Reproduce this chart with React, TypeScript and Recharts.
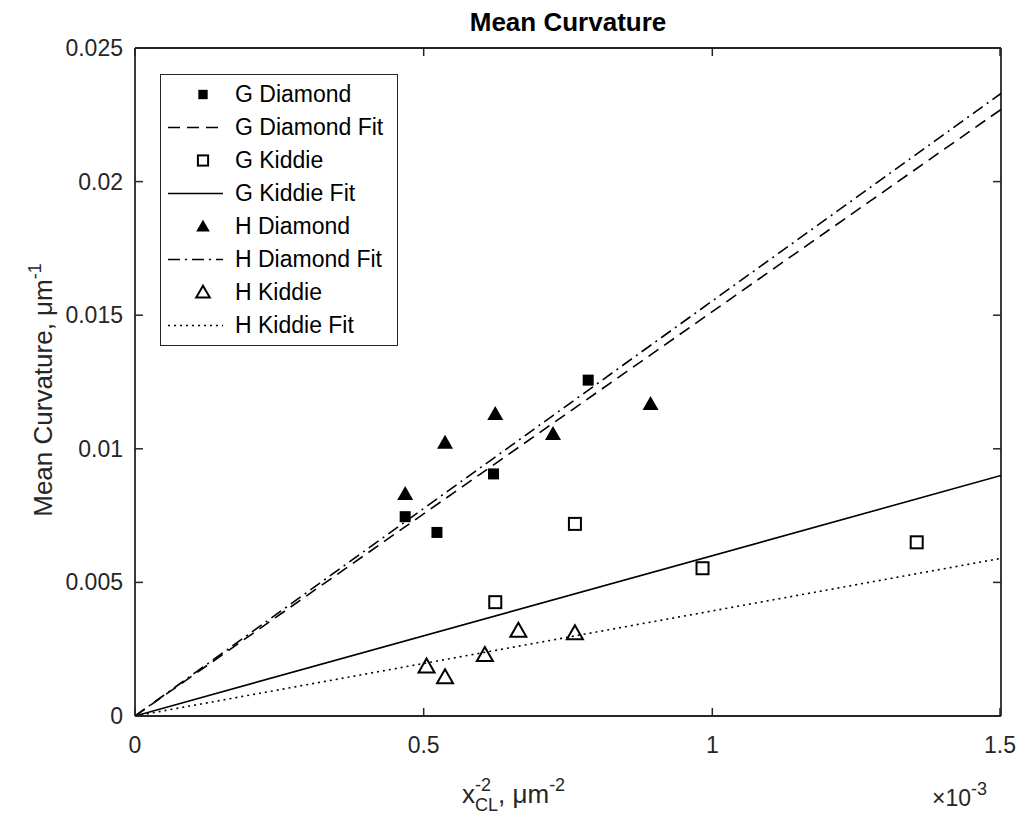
import React from "react";
import { ScatterChart, Scatter, XAxis, YAxis, Legend, Customized } from "recharts";

// x values in 1/um^2, y values in 1/um
const gDiamondX = [0.000468, 0.000523, 0.000621, 0.000785];
const gDiamondY = [0.00746, 0.00687, 0.00906, 0.01257];
const gKiddieX = [0.000624, 0.000762, 0.000983, 0.001354];
const gKiddieY = [0.00426, 0.00719, 0.00553, 0.0065];
const hDiamondX = [0.000468, 0.000537, 0.000624, 0.000724, 0.000893];
const hDiamondY = [0.00831, 0.01023, 0.0113, 0.01055, 0.01168];
const hKiddieX = [0.000505, 0.000537, 0.000606, 0.000664, 0.000762];
const hKiddieY = [0.00185, 0.00145, 0.00228, 0.00319, 0.0031];

// fit lines through the origin, end values read at x = 1.5e-3
const fitX = [0, 0.0015];
const gDiamondFitY = [0, 0.0227];
const gKiddieFitY = [0, 0.009];
const hDiamondFitY = [0, 0.0233];
const hKiddieFitY = [0, 0.0059];

const xTicks = [0, 0.0005, 0.001, 0.0015];
const xTickLabels = ["0", "0.5", "1", "1.5"];
const yTicks = [0, 0.005, 0.01, 0.015, 0.02, 0.025];
const yTickLabels = ["0", "0.005", "0.01", "0.015", "0.02", "0.025"];

const legendNames = [
  "G Diamond",
  "G Diamond Fit",
  "G Kiddie",
  "G Kiddie Fit",
  "H Diamond",
  "H Diamond Fit",
  "H Kiddie",
  "H Kiddie Fit",
];

const toPoints = (xs: number[], ys: number[]) => xs.map((x, i) => ({ x, y: ys[i] }));

const AXIS = "#262626";
const FONT = "'Liberation Sans', Arial, sans-serif";
const TICK_LEN = 8;

const DASH = "12 7";
const DASHDOT = "12 5 2 5";
const DOT = "2 4";

function Marker({ kind, cx, cy, s = 1 }: { kind: string; cx: number; cy: number; s?: number }) {
  if (kind === "fsq") {
    const h = 5.5 * s;
    return <rect x={cx - h} y={cy - h} width={2 * h} height={2 * h} fill="#000" />;
  }
  if (kind === "osq") {
    const h = 6 * s;
    return <rect x={cx - h} y={cy - h} width={2 * h} height={2 * h} fill="none" stroke="#000" strokeWidth={2} />;
  }
  const pts = `${cx - 8 * s},${cy + 6 * s} ${cx + 8 * s},${cy + 6 * s} ${cx},${cy - 8 * s}`;
  if (kind === "ftri") return <polygon points={pts} fill="#000" />;
  return <polygon points={pts} fill="none" stroke="#000" strokeWidth={2} strokeLinejoin="miter" />;
}

const markerShape = (kind: string) => (props: any) => <Marker kind={kind} cx={props.cx} cy={props.cy} />;
const noShape = () => <g />;

const legendItems = [
  { marker: "fsq" },
  { dash: DASH },
  { marker: "osq" },
  { dash: "" },
  { marker: "ftri" },
  { dash: DASHDOT },
  { marker: "otri" },
  { dash: DOT },
];

function LegendBox() {
  return (
    <div
      style={{
        border: `1.5px solid ${AXIS}`,
        background: "#fff",
        width: 236,
        padding: "3px 0",
        fontFamily: FONT,
        fontSize: 23,
        color: "#000",
      }}
    >
      {legendItems.map((it, i) => (
        <div key={i} style={{ display: "flex", alignItems: "center", height: 33, whiteSpace: "nowrap" }}>
          <svg width={74} height={33} style={{ flex: "none" }}>
            {it.marker ? (
              <Marker kind={it.marker} cx={42} cy={16.5} s={0.85} />
            ) : (
              <line x1={7} x2={62} y1={16.5} y2={16.5} stroke="#000" strokeWidth={1.6} strokeDasharray={it.dash || undefined} />
            )}
          </svg>
          <span>{legendNames[i]}</span>
        </div>
      ))}
    </div>
  );
}

const bottomTick = (props: any) => {
  const { x, y, index } = props;
  return (
    <g>
      <line x1={x} x2={x} y1={y} y2={y - TICK_LEN} stroke={AXIS} strokeWidth={1.5} />
      <text x={x} y={y + 37} textAnchor="middle" fontSize={23} fontFamily={FONT} fill={AXIS}>
        {xTickLabels[index]}
      </text>
    </g>
  );
};

const topTick = (props: any) => {
  const { x, y } = props;
  return <line x1={x} x2={x} y1={y} y2={y + TICK_LEN} stroke={AXIS} strokeWidth={1.5} />;
};

const leftTick = (props: any) => {
  const { x, y, index } = props;
  return (
    <g>
      <line x1={x} x2={x + TICK_LEN} y1={y} y2={y} stroke={AXIS} strokeWidth={1.5} />
      <text x={x - 12} y={y + 8} textAnchor="end" fontSize={23} fontFamily={FONT} fill={AXIS}>
        {yTickLabels[index]}
      </text>
    </g>
  );
};

const rightTick = (props: any) => {
  const { x, y } = props;
  return <line x1={x} x2={x - TICK_LEN} y1={y} y2={y} stroke={AXIS} strokeWidth={1.5} />;
};

function Labels() {
  return (
    <g fontFamily={FONT} fill={AXIS}>
      <text x={568} y={31} textAnchor="middle" fontSize={26} fontWeight="bold" fill="#000">
        Mean Curvature
      </text>
      <text x={462} y={803} fontSize={26}>
        x
        <tspan dy={8} fontSize={18}>CL</tspan>
        <tspan dx={-23} dy={-20} fontSize={18}>-2</tspan>
        <tspan dx={7} dy={12}>, μm</tspan>
        <tspan dy={-12} fontSize={18}>-2</tspan>
      </text>
      <text x={932} y={806} fontSize={23}>
        ×10
        <tspan dy={-11} fontSize={18}>-3</tspan>
      </text>
      <text transform="rotate(-90)" x={-390} y={52} textAnchor="middle" fontSize={26}>
        Mean Curvature, μm
        <tspan dy={-11} fontSize={18}>-1</tspan>
      </text>
    </g>
  );
}

export default function App() {
  const axisLine = { stroke: AXIS, strokeWidth: 1.8 };
  return (
    <div style={{ position: "absolute", left: 0, top: 0, background: "#fff" }}>
      <ScatterChart width={1022} height={823} margin={{ top: 47, right: 20, bottom: 0, left: 0 }}>
        <XAxis
          xAxisId="b"
          type="number"
          dataKey="x"
          domain={[0, 0.0015]}
          allowDataOverflow
          ticks={xTicks}
          height={107}
          tickSize={0}
          tickMargin={0}
          axisLine={axisLine}
          tick={bottomTick}
        />
        <XAxis
          xAxisId="t"
          orientation="top"
          type="number"
          dataKey="x"
          domain={[0, 0.0015]}
          allowDataOverflow
          ticks={xTicks}
          height={1}
          tickSize={0}
          tickMargin={0}
          axisLine={axisLine}
          tick={topTick}
        />
        <YAxis
          yAxisId="l"
          type="number"
          dataKey="y"
          domain={[0, 0.025]}
          allowDataOverflow
          ticks={yTicks}
          width={135}
          tickSize={0}
          tickMargin={0}
          axisLine={axisLine}
          tick={leftTick}
        />
        <YAxis
          yAxisId="r"
          orientation="right"
          type="number"
          dataKey="y"
          domain={[0, 0.025]}
          allowDataOverflow
          ticks={yTicks}
          width={1}
          tickSize={0}
          tickMargin={0}
          axisLine={axisLine}
          tick={rightTick}
        />
        <Scatter name="G Diamond Fit" xAxisId="b" yAxisId="l" data={toPoints(fitX, gDiamondFitY)} shape={noShape}
          line={{ stroke: "#000", strokeWidth: 1.6, strokeDasharray: DASH }} legendType="none" isAnimationActive={false} />
        <Scatter name="G Kiddie Fit" xAxisId="b" yAxisId="l" data={toPoints(fitX, gKiddieFitY)} shape={noShape}
          line={{ stroke: "#000", strokeWidth: 1.6 }} legendType="none" isAnimationActive={false} />
        <Scatter name="H Diamond Fit" xAxisId="b" yAxisId="l" data={toPoints(fitX, hDiamondFitY)} shape={noShape}
          line={{ stroke: "#000", strokeWidth: 1.6, strokeDasharray: DASHDOT }} legendType="none" isAnimationActive={false} />
        <Scatter name="H Kiddie Fit" xAxisId="b" yAxisId="l" data={toPoints(fitX, hKiddieFitY)} shape={noShape}
          line={{ stroke: "#000", strokeWidth: 1.6, strokeDasharray: DOT }} legendType="none" isAnimationActive={false} />
        <Scatter name="G Diamond" xAxisId="b" yAxisId="l" data={toPoints(gDiamondX, gDiamondY)} shape={markerShape("fsq")} isAnimationActive={false} />
        <Scatter name="G Kiddie" xAxisId="b" yAxisId="l" data={toPoints(gKiddieX, gKiddieY)} shape={markerShape("osq")} isAnimationActive={false} />
        <Scatter name="H Diamond" xAxisId="b" yAxisId="l" data={toPoints(hDiamondX, hDiamondY)} shape={markerShape("ftri")} isAnimationActive={false} />
        <Scatter name="H Kiddie" xAxisId="b" yAxisId="l" data={toPoints(hKiddieX, hKiddieY)} shape={markerShape("otri")} isAnimationActive={false} />
        <Legend
          layout="vertical"
          align="center"
          verticalAlign="middle"
          content={() => <LegendBox />}
          wrapperStyle={{ left: 160, top: 74, width: 240 }}
        />
        <Customized component={Labels} />
      </ScatterChart>
    </div>
  );
}
